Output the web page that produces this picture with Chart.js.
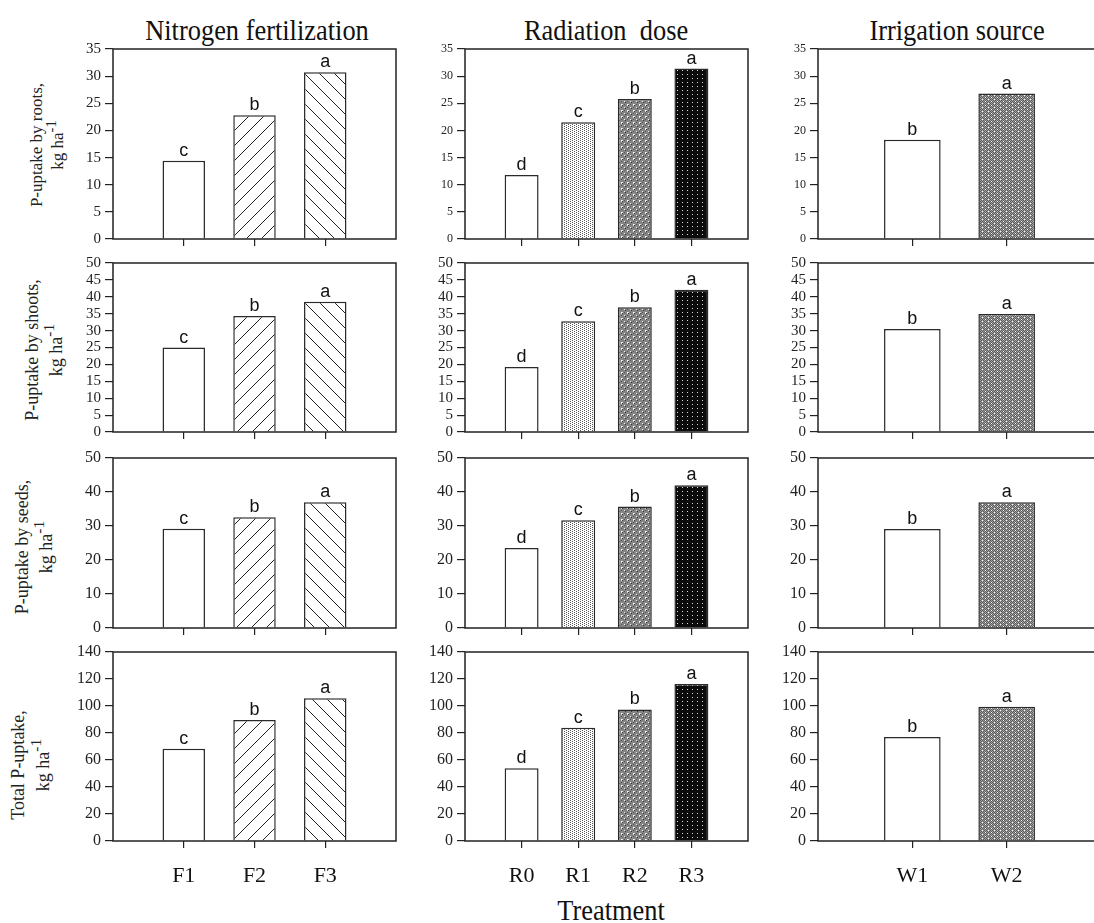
<!DOCTYPE html>
<html>
<head>
<meta charset="utf-8">
<script src="https://cdn.jsdelivr.net/npm/chart.js@4.4.0/dist/chart.umd.min.js"></script>
<style>
  html, body { margin: 0; padding: 0; background: #fff; width: 1094px; height: 923px; overflow: hidden; position: relative; }
  canvas { position: absolute; }
  .ttl { position: absolute; font-family: "Liberation Serif", "Times New Roman", serif; color: #111; white-space: nowrap; line-height: 1; transform: translateX(-50%) scaleX(0.88); }
  .ylab { position: absolute; font-family: "Liberation Serif", "Times New Roman", serif; color: #222; white-space: nowrap; text-align: center; transform: translate(-50%, -50%) rotate(-90deg); }
  .ylab sup { font-size: 0.85em; line-height: 0; vertical-align: 0.5em; }
</style>
</head>
<body>
<div class="ttl" style="left:257px; top:15px; font-size:30px;">Nitrogen fertilization</div>
<div class="ttl" style="left:606px; top:15px; font-size:30px;">Radiation&nbsp; dose</div>
<div class="ttl" style="left:957px; top:15px; font-size:30px;">Irrigation source</div>
<div class="ttl" style="left:611px; top:895px; font-size:30px;">Treatment</div>

<div class="ylab" style="left:47px; top:145px; font-size:17px; line-height:21px;">P-uptake by roots,<br>kg ha<sup>-1</sup></div>
<div class="ylab" style="left:44px; top:350px; font-size:18px; line-height:24px;">P-uptake by shoots,<br>kg ha<sup>-1</sup></div>
<div class="ylab" style="left:34px; top:547px; font-size:18px; line-height:24px;">P-uptake by seeds,<br>kg ha<sup>-1</sup></div>
<div class="ylab" style="left:31px; top:765px; font-size:18px; line-height:25px;">Total P-uptake,<br>kg ha<sup>-1</sup></div>

<script>
// categories
const nLabels = ['F1', 'F2', 'F3'];
const rLabels = ['R0', 'R1', 'R2', 'R3'];
const wLabels = ['W1', 'W2'];

// significance letters
const nLetters = ['c', 'b', 'a'];
const rLetters = ['d', 'c', 'b', 'a'];
const wLetters = ['b', 'a'];

// P-uptake by roots
const rootsN = [14.4, 22.8, 30.7];
const rootsR = [11.8, 21.5, 25.8, 31.4];
const rootsW = [18.3, 26.8];
// P-uptake by shoots
const shootsN = [25.0, 34.3, 38.5];
const shootsR = [19.2, 32.8, 36.9, 42.1];
const shootsW = [30.5, 34.9];
// P-uptake by seeds
const seedsN = [29.2, 32.6, 37.0];
const seedsR = [23.5, 31.7, 35.7, 42.0];
const seedsW = [29.1, 37.0];
// Total P-uptake
const totalN = [68.4, 89.6, 105.7];
const totalR = [53.8, 83.9, 97.5, 116.3];
const totalW = [77.0, 99.4];

// y axis ranges per row
const yMax = [35, 50, 50, 140];
const yStep = [5, 5, 10, 20];

// ---- fill patterns ----
function tile(w, h, paint) {
    const c = document.createElement('canvas');
    c.width = w; c.height = h;
    const g = c.getContext('2d');
    paint(g, w, h);
    return g.createPattern(c, 'repeat');
}
function px(g, x, y, col) { g.fillStyle = col; g.fillRect(x, y, 1, 1); }

const hatchFwd = tile(15, 15, (g, w, h) => {
    g.fillStyle = '#fff'; g.fillRect(0, 0, w, h);
    g.strokeStyle = '#222'; g.lineWidth = 1;
    g.beginPath();
    g.moveTo(-1, h + 1); g.lineTo(w + 1, -1);
    g.moveTo(-1, 1); g.lineTo(1, -1);
    g.moveTo(w - 1, h + 1); g.lineTo(w + 1, h - 1);
    g.stroke();
});
const hatchBack = tile(15, 15, (g, w, h) => {
    g.fillStyle = '#fff'; g.fillRect(0, 0, w, h);
    g.strokeStyle = '#222'; g.lineWidth = 1;
    g.beginPath();
    g.moveTo(-1, -1); g.lineTo(w + 1, h + 1);
    g.moveTo(-1, h - 1); g.lineTo(1, h + 1);
    g.moveTo(w - 1, -1); g.lineTo(w + 1, 1);
    g.stroke();
});
const dotLight = tile(4, 2, (g, w, h) => {
    g.fillStyle = '#fff'; g.fillRect(0, 0, w, h);
    px(g, 0, 0, '#555'); px(g, 2, 1, '#555');
});
const dotMid = tile(6, 6, (g, w, h) => {
    g.fillStyle = '#858585'; g.fillRect(0, 0, w, h);
    px(g, 1, 1, '#fff'); px(g, 2, 1, '#ddd'); px(g, 1, 2, '#ddd');
    px(g, 2, 2, '#333'); px(g, 4, 4, '#eee'); px(g, 5, 5, '#333');
    px(g, 4, 1, '#555'); px(g, 1, 4, '#555');
});
const dotDark = tile(5, 4, (g, w, h) => {
    g.fillStyle = '#0b0b0b'; g.fillRect(0, 0, w, h);
    px(g, 2, 1, '#d8d8d8');
});
const checkDots = tile(6, 4, (g, w, h) => {
    for (let x = 0; x < w; x++)
        for (let y = 0; y < h; y++)
            px(g, x, y, (x + y) % 2 ? '#5a5a5a' : '#a2a2a2');
    px(g, 0, 0, '#fff'); px(g, 3, 2, '#fff');
});

const nFills = ['#ffffff', hatchFwd, hatchBack];
const rFills = ['#ffffff', dotLight, dotMid, dotDark];
const wFills = ['#ffffff', checkDots];

// ---- layout ----
const plotLeft = [113, 465, 818];
const plotW = 283;
const plotTop = [49, 263, 458, 652];
const plotH = [189.5, 169, 170, 189];
const tickFont = [[15, 12, 12], [15, 15, 15], [16, 16, 16], [16, 16, 16]];
const AXW = 55, PADT = 12, PADR = 4;

const groups = [
    { labels: nLabels, letters: nLetters, fills: nFills, rows: [rootsN, shootsN, seedsN, totalN] },
    { labels: rLabels, letters: rLetters, fills: rFills, rows: [rootsR, shootsR, seedsR, totalR] },
    { labels: wLabels, letters: wLetters, fills: wFills, rows: [rootsW, shootsW, seedsW, totalW] }
];

const panelPlugin = {
    id: 'panel',
    afterDatasetsDraw(chart, args, opts) {
        const { ctx, chartArea: a } = chart;
        ctx.save();
        const meta = chart.getDatasetMeta(0);
        ctx.font = '18px "Liberation Sans", Arial, sans-serif';
        ctx.fillStyle = '#111';
        ctx.textAlign = 'center';
        ctx.textBaseline = 'alphabetic';
        meta.data.forEach((bar, i) => {
            const t = opts.letters[i];
            if (t) ctx.fillText(t, bar.x, bar.y - 5);
        });
        ctx.strokeStyle = '#222';
        ctx.lineWidth = 1.5;
        ctx.strokeRect(a.left, a.top, a.right - a.left, a.bottom - a.top);
        ctx.restore();
    }
};

const __charts = [];

function makePanel(row, col) {
    const grp = groups[col];
    const last = grp.labels.length + 1;
    const labels = ['', ...grp.labels, ''];
    const data = [null, ...grp.rows[row], null];
    const fills = ['#fff', ...grp.fills, '#fff'];
    const letters = ['', ...grp.letters, ''];
    const bottomRow = row === 3;
    const xH = bottomRow ? 60 : 8;

    const cv = document.createElement('canvas');
    const w = AXW + plotW + PADR;
    const h = Math.round(PADT + plotH[row] + xH);
    cv.width = w; cv.height = h;
    cv.style.left = (plotLeft[col] - AXW) + 'px';
    cv.style.top = (plotTop[row] - PADT) + 'px';
    cv.style.width = w + 'px';
    cv.style.height = h + 'px';
    document.body.appendChild(cv);

    const chart = new Chart(cv, {
        type: 'bar',
        data: {
            labels: labels,
            datasets: [{
                data: data,
                backgroundColor: fills,
                borderColor: '#2a2a2a',
                borderWidth: 1.5,
                barPercentage: 0.6,
                categoryPercentage: 1.0
            }]
        },
        options: {
            responsive: false,
            animation: false,
            devicePixelRatio: 1,
            layout: { autoPadding: false, padding: { top: PADT, right: PADR, left: 0, bottom: 0 } },
            plugins: {
                legend: { display: false },
                tooltip: { enabled: false },
                panel: { letters: letters }
            },
            scales: {
                x: {
                    offset: false,
                    grid: {
                        offset: false,
                        drawOnChartArea: false,
                        tickLength: 7,
                        lineWidth: 1.2,
                        color: ctx => (ctx.index === 0 || ctx.index === last) ? 'rgba(0,0,0,0)' : '#222'
                    },
                    border: { display: false },
                    ticks: {
                        display: bottomRow,
                        autoSkip: false,
                        maxRotation: 0,
                        padding: 15,
                        color: '#111',
                        font: { family: '"Liberation Serif", "Times New Roman", serif', size: 22 }
                    },
                    afterFit: s => { s.height = xH; s.paddingLeft = 0; s.paddingRight = 0; }
                },
                y: {
                    min: 0,
                    max: yMax[row],
                    grid: { drawOnChartArea: false, tickLength: 8, lineWidth: 1.2, color: '#222' },
                    border: { display: false },
                    ticks: {
                        stepSize: yStep[row],
                        autoSkip: false,
                        padding: 4,
                        color: '#222',
                        font: { family: '"Liberation Serif", "Times New Roman", serif', size: tickFont[row][col] }
                    },
                    afterFit: s => { s.width = AXW; s.paddingTop = 0; s.paddingBottom = 0; }
                }
            }
        },
        plugins: [panelPlugin]
    });
    __charts.push(chart);
}

for (let r = 0; r < 4; r++)
    for (let c = 0; c < 3; c++)
        makePanel(r, c);
</script>
</body>
</html>
